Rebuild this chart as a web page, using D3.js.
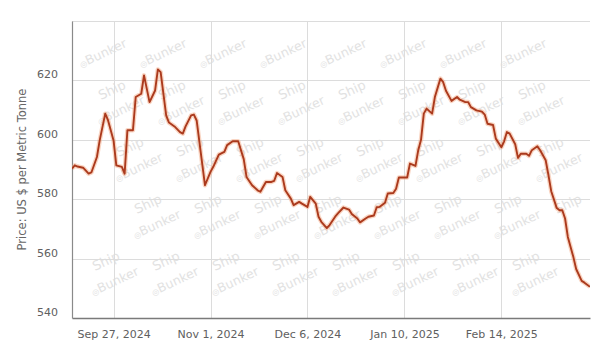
<!DOCTYPE html>
<html>
<head>
<meta charset="utf-8">
<script src="https://cdn.jsdelivr.net/npm/d3@7"></script>
<style>
  html, body { margin: 0; padding: 0; background: #fff; }
  svg { display: block; }
  text { font-family: "DejaVu Sans", Verdana, sans-serif; }
</style>
</head>
<body>
<svg id="chart" width="605" height="359"></svg>
<script>
const dates = [
  "2024-09-12","2024-09-13","2024-09-14","2024-09-16","2024-09-18","2024-09-19","2024-09-21","2024-09-22",
  "2024-09-24","2024-09-25","2024-09-27","2024-09-28","2024-09-30","2024-10-01","2024-10-02","2024-10-04",
  "2024-10-05","2024-10-07","2024-10-08","2024-10-10","2024-10-12","2024-10-13","2024-10-14","2024-10-16",
  "2024-10-17","2024-10-19","2024-10-21","2024-10-22","2024-10-23","2024-10-25","2024-10-26","2024-10-27",
  "2024-10-29","2024-10-30","2024-11-01","2024-11-02","2024-11-04","2024-11-06","2024-11-07","2024-11-09",
  "2024-11-11","2024-11-13","2024-11-14","2024-11-16","2024-11-18","2024-11-19","2024-11-21","2024-11-23",
  "2024-11-24","2024-11-25","2024-11-27","2024-11-28","2024-11-30","2024-12-01","2024-12-03","2024-12-04",
  "2024-12-06","2024-12-07","2024-12-09","2024-12-10","2024-12-11","2024-12-13","2024-12-14","2024-12-16",
  "2024-12-17","2024-12-19","2024-12-21","2024-12-22","2024-12-24","2024-12-25","2024-12-27","2024-12-28",
  "2024-12-30","2024-12-31","2025-01-01","2025-01-03","2025-01-04","2025-01-06","2025-01-07","2025-01-08",
  "2025-01-11","2025-01-12","2025-01-14","2025-01-15","2025-01-16","2025-01-17","2025-01-18","2025-01-20",
  "2025-01-21","2025-01-23","2025-01-24","2025-01-25","2025-01-27","2025-01-29","2025-01-30","2025-02-01",
  "2025-02-02","2025-02-03","2025-02-05","2025-02-07","2025-02-08","2025-02-09","2025-02-11","2025-02-12",
  "2025-02-14","2025-02-15","2025-02-16","2025-02-17","2025-02-19","2025-02-20","2025-02-21","2025-02-23",
  "2025-02-24","2025-02-25","2025-02-27","2025-02-28","2025-03-02","2025-03-03","2025-03-04","2025-03-06",
  "2025-03-07","2025-03-08","2025-03-09","2025-03-10","2025-03-12","2025-03-13","2025-03-15","2025-03-16",
  "2025-03-18"
];
const prices = [
  590.3,591.4,591.0,590.6,588.6,589.0,594.2,599.8,
  608.8,606.6,599.8,591.4,590.9,588.6,603.2,603.2,
  614.4,615.5,621.7,612.7,616.6,623.7,622.8,608.2,
  605.8,604.5,602.6,602.1,604.5,608.2,608.5,606.5,
  592.0,584.7,589.2,590.9,595.0,595.9,598.2,599.5,
  599.5,593.5,587.5,584.7,583.0,582.5,585.8,585.8,
  586.2,588.8,587.5,583.0,580.2,578.0,579.1,578.5,
  577.4,580.8,578.5,574.1,572.4,570.3,571.3,574.1,
  575.2,577.2,576.5,575.0,573.5,572.2,573.5,574.1,
  574.5,577.3,577.4,578.8,581.9,582.1,583.5,587.3,
  587.3,592.0,591.2,596.5,600.0,608.8,610.5,608.8,
  614.4,620.6,619.4,616.5,613.1,614.4,613.5,612.7,
  612.7,611.0,609.9,609.5,608.5,605.4,605.0,600.4,
  597.5,599.5,602.6,602.1,598.5,593.9,595.3,595.3,
  594.6,596.5,597.8,596.5,593.1,588.1,582.7,577.0,
  576.3,576.3,573.5,567.3,560.5,556.5,552.5,551.9,
  550.5
];
const xTickDates = ["2024-09-27","2024-11-01","2024-12-06","2025-01-10","2025-02-14"];
const xTickLabels = ["Sep 27, 2024","Nov 1, 2024","Dec 6, 2024","Jan 10, 2025","Feb 14, 2025"];
const yTicks = [540, 560, 580, 600, 620];
const yGridValues = [560, 580, 600, 620, 640];
const xDomainDates = ["2024-09-12","2025-03-18"];
const yDomain = [540, 640];
const yTitle = "Price: US $ per Metric Tonne";
const watermarkWords = ["Ship", "Bunker"];

const parse = d3.utcParse("%Y-%m-%d");
const data = dates.map((d, i) => ({ date: parse(d), value: prices[i] }));

const svg = d3.select("#chart");
const L = 72, R = 590, T = 21, B = 318;

const x = d3.scaleUtc().domain(xDomainDates.map(parse)).range([L, R]);
const y = d3.scaleLinear().domain(yDomain).range([B, T]);

svg.append("defs").append("clipPath").attr("id", "plotclip")
  .append("rect").attr("x", L).attr("y", T).attr("width", R - L).attr("height", B - T);

// watermark (only pieces fully inside the plot area are kept)
const wm = svg.append("g");
function keepInside(t) {
  const bb = t.node().getBoundingClientRect();
  if (bb.left < L + 1 || bb.right > R - 1 || bb.top < T + 1 || bb.bottom > B - 1) t.remove();
}
for (let j = -2; j < 8; j++) {
  for (let i = -3; i < 12; i++) {
    const px = 23 + 60 * i + 18 * j;
    const py = 43 + 57 * j;
    const t1 = wm.append("text")
      .attr("transform", `translate(${px},${py}) rotate(-25)`)
      .attr("font-size", 13).attr("fill", "#e2e2e2")
      .text(watermarkWords[0]);
    keepInside(t1);
    const t2 = wm.append("text")
      .attr("transform", `translate(${px},${py}) rotate(-25) translate(-12,22)`)
      .attr("fill", "#e2e2e2");
    t2.append("tspan").attr("font-size", 8).text("\u25CE");
    t2.append("tspan").attr("font-size", 12.5).text(watermarkWords[1]);
    keepInside(t2);
  }
}

// horizontal grid
svg.append("g").selectAll("line").data(yGridValues).join("line")
  .attr("x1", L).attr("x2", R)
  .attr("y1", d => Math.round(y(d)) + 0.5).attr("y2", d => Math.round(y(d)) + 0.5)
  .attr("stroke", "#dcdcdc").attr("stroke-width", 1);

// vertical grid
svg.append("g").selectAll("line").data(xTickDates).join("line")
  .attr("x1", d => Math.round(x(parse(d))) + 0.5).attr("x2", d => Math.round(x(parse(d))) + 0.5)
  .attr("y1", T).attr("y2", B)
  .attr("stroke", "#dcdcdc").attr("stroke-width", 1);

// axes
const xAxis = d3.axisBottom(x)
  .tickValues(xTickDates.map(parse))
  .tickFormat((d, i) => xTickLabels[i])
  .tickSize(0).tickPadding(12);
const gx = svg.append("g").attr("transform", `translate(0,${B})`).call(xAxis);
gx.select(".domain").attr("stroke", "#7a7a7a").attr("stroke-width", 1.5);
gx.selectAll("text").attr("font-size", 11).attr("fill", "#606060")
  .attr("font-family", "DejaVu Sans, sans-serif");

const yAxis = d3.axisLeft(y).tickValues(yTicks).tickFormat(d3.format("d")).tickSize(0).tickPadding(14);
const gy = svg.append("g").attr("transform", `translate(${L},0)`).call(yAxis);
gy.select(".domain").attr("stroke", "#8a8a8a").attr("stroke-width", 1.2);
gy.selectAll("text").attr("font-size", 11).attr("fill", "#606060").attr("dy", "-0.22em")
  .attr("font-family", "DejaVu Sans, sans-serif");

// y title
svg.append("text")
  .attr("transform", `translate(26,${(T + B) / 2}) rotate(-90)`)
  .attr("text-anchor", "middle")
  .attr("font-size", 11.5)
  .attr("fill", "#666")
  .text(yTitle);

// line
const line = d3.line().x(d => x(d.date)).y(d => y(d.value));
const g = svg.append("g").attr("clip-path", "url(#plotclip)");
g.append("path").datum(data).attr("d", line)
  .attr("fill", "none").attr("stroke", "#f2a27a").attr("stroke-opacity", 0.45)
  .attr("stroke-width", 4.5).attr("stroke-linejoin", "round");
g.append("path").datum(data).attr("d", line)
  .attr("fill", "none").attr("stroke", "#ab3a1d")
  .attr("stroke-width", 1.9).attr("stroke-linejoin", "round");
</script>
</body>
</html>
